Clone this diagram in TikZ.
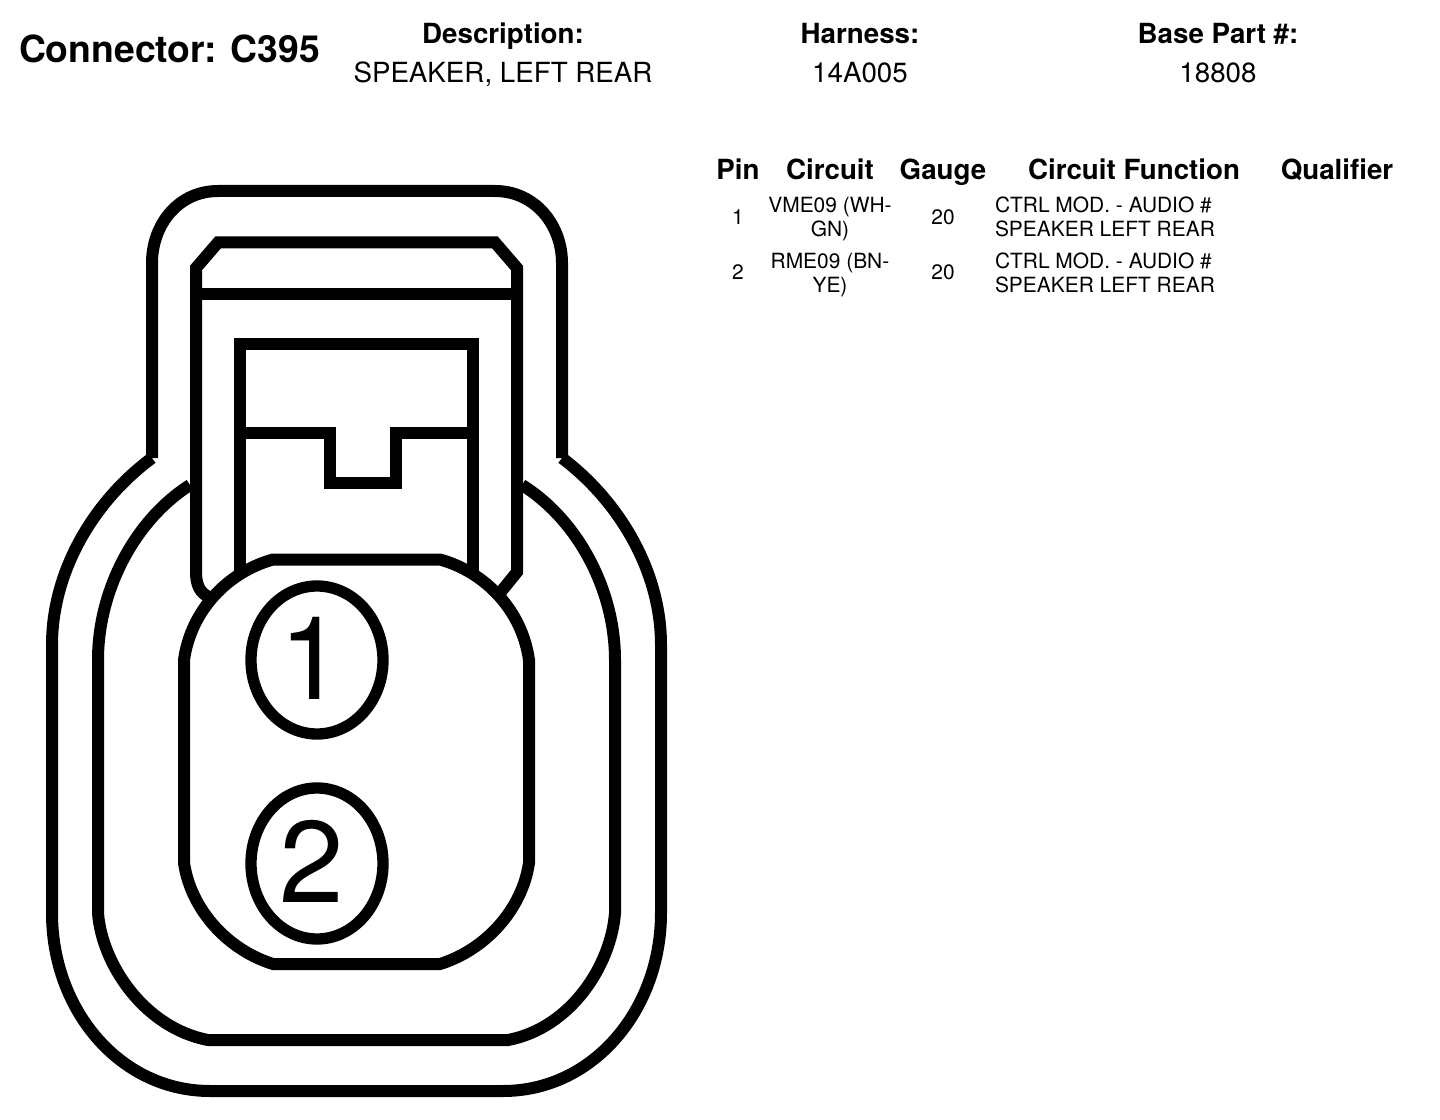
\documentclass[tikz,border=0pt]{standalone}
\usepackage{fontspec}
\setmainfont{TeX Gyre Heros}
\tikzset{
  ln/.style={line width=9pt,line cap=butt,line join=miter,draw=black},
  lab/.style={anchor=base,inner sep=0pt,outer sep=0pt,text=black},
  title/.style={lab,font=\fontsize{28}{28}\selectfont\bfseries},
  hd/.style={lab,font=\fontsize{20.8}{20.8}\selectfont\bfseries},
  val/.style={lab,font=\fontsize{20.8}{20.8}\selectfont},
  th/.style={lab,font=\fontsize{20.8}{20.8}\selectfont\bfseries},
  td/.style={lab,font=\fontsize{15.7}{15.7}\selectfont},
  tl/.style={td,anchor=base west},
  digit/.style={lab,font=\fontsize{87}{87}\selectfont}
}
\begin{document}
\begin{tikzpicture}[x=0.75pt,y=-0.75pt]
\useasboundingbox (0,0) rectangle (1440,1120);
% outer contour
\draw[ln] (152,458) -- (152,263) .. controls (152,225) and (178,191) .. (218,191) -- (495,191)
  .. controls (535,191) and (562,225) .. (562,263) -- (562,458);
\draw[ln] (152,458) .. controls (95,500) and (52,570) .. (52,645) -- (52,913)
  .. controls (52,1010) and (120,1091) .. (210,1091) -- (503,1091)
  .. controls (593,1091) and (661,1010) .. (661,913) -- (661,645)
  .. controls (661,570) and (618,500) .. (562,458);
% middle contour
\draw[ln] (190,485) .. controls (135,520) and (98,590) .. (98,660) -- (98,913)
  .. controls (102,965) and (145,1028) .. (208,1040) -- (508,1040)
  .. controls (571,1028) and (611,965) .. (615,913) -- (615,660)
  .. controls (615,590) and (578,520) .. (522,485);
% housing
\draw[ln] (196,572) -- (196,268) -- (218,242.5) -- (495,242.5) -- (517,268) -- (517,572) -- (500,593);
\draw[ln] (196,572) .. controls (196,585) and (200,593) .. (209,597);
\draw[ln] (196,294) -- (517,294);
% latch
\draw[ln] (240,575) -- (240,344) -- (473,344) -- (473,575);
\draw[ln] (240,433) -- (329.5,433) -- (329.5,483) -- (395.5,483) -- (395.5,433) -- (473,433);
% cavity plate
\draw[ln] (273,559.5) -- (440,559.5) .. controls (485,572) and (522,610) .. (529,660) -- (529,863)
  .. controls (522,910) and (485,950) .. (440,964) -- (273,964)
  .. controls (228,950) and (191,910) .. (184,863) -- (184,660)
  .. controls (191,610) and (228,572) .. (273,559.5) -- cycle;
% pins
\draw[ln,line width=8.5pt] (317,660) ellipse [x radius=66,y radius=74];
\draw[ln,line width=8.5pt] (317,863.5) ellipse [x radius=66,y radius=75.5];
\node[digit] (d1) at (312,699) {1};
\node[digit] (d2) at (312,902) {2};
% header
\node[title,anchor=base west] (conn) at (19,63) {Connector: C395};
\node[hd] (hdesc) at (503,44) {Description:};
\node[val] (vdesc) at (503,83) {SPEAKER, LEFT REAR};
\node[hd] (hharn) at (860,44) {Harness:};
\node[val] (vharn) at (860,83) {14A005};
\node[hd] (hbase) at (1218,44) {Base Part \#:};
\node[val] (vbase) at (1218,83) {18808};
% table
\node[th] (tpin) at (738,180) {Pin};
\node[th] (tcir) at (830,180) {Circuit};
\node[th] (tgau) at (943,180) {Gauge};
\node[th] (tfun) at (1134,180) {Circuit Function};
\node[th] (tqua) at (1337,180) {Qualifier};
\node[td] (p1) at (738,225) {1};
\node[td] (c1a) at (830,213) {VME09 (WH-};
\node[td] (c1b) at (830,237) {GN)};
\node[td] (g1) at (943,225) {20};
\node[tl] (f1a) at (995,213) {CTRL MOD. - AUDIO \#};
\node[tl] (f1b) at (995,237) {SPEAKER LEFT REAR};
\node[td] (p2) at (738,280) {2};
\node[td] (c2a) at (830,268) {RME09 (BN-};
\node[td] (c2b) at (830,292) {YE)};
\node[td] (g2) at (943,280) {20};
\node[tl] (f2a) at (995,268) {CTRL MOD. - AUDIO \#};
\node[tl] (f2b) at (995,292) {SPEAKER LEFT REAR};
\end{tikzpicture}
\end{document}
